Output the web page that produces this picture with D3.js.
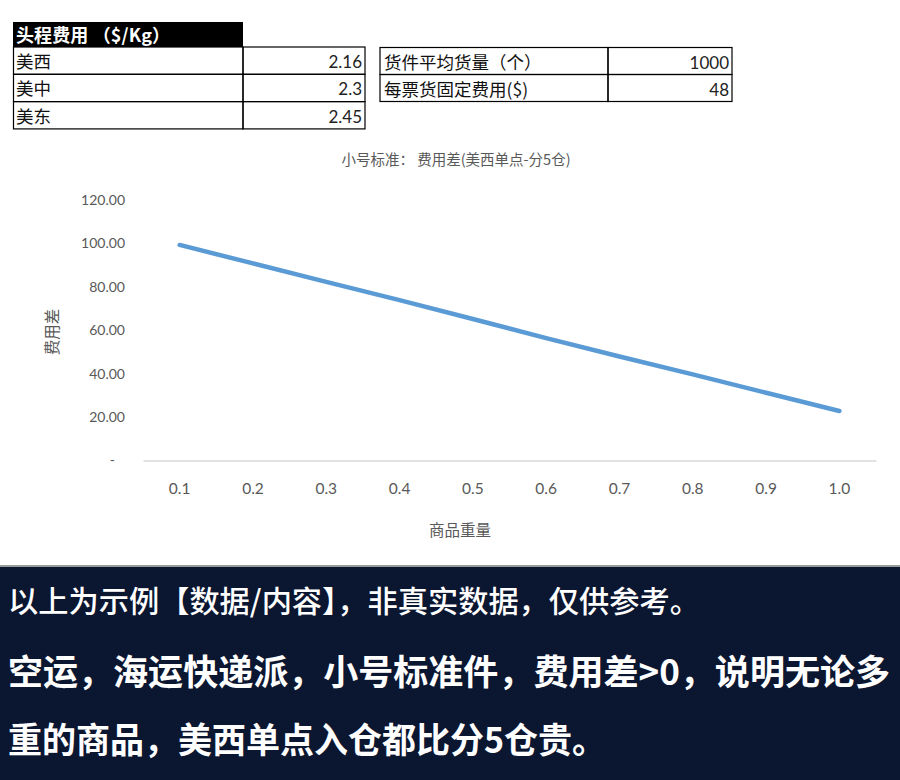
<!DOCTYPE html>
<html>
<head>
<meta charset="utf-8">
<script src="https://cdn.jsdelivr.net/npm/d3@7"></script>
<style>
  html, body { margin: 0; padding: 0; background: #ffffff; }
  svg { display: block; }
</style>
</head>
<body>
<svg id="chart" width="900" height="780"></svg>
<script>
// ---------- data ----------
const tableTitle = "头程费用 （$/Kg）";
const regions = ["美西", "美中", "美东"];
const headFees = ["2.16", "2.3", "2.45"];
const paramLabels = ["货件平均货量（个）", "每票货固定费用($)"];
const paramValues = ["1000", "48"];
const weights = ["0.1", "0.2", "0.3", "0.4", "0.5", "0.6", "0.7", "0.8", "0.9", "1.0"];
const costDiff = [99.3, 90.8, 82.3, 73.9, 65.2, 56.4, 47.9, 39.7, 31.2, 22.8];
const yTicks = [0, 20, 40, 60, 80, 100, 120];
const chartTitle = "小号标准：  费用差(美西单点-分5仓)";
const xTitle = "商品重量";
const yTitle = "费用差";
const noteLines = [
  "以上为示例【数据/内容】，非真实数据，仅供参考。",
  "空运，海运快递派，小号标准件，费用差>0，说明无论多",
  "重的商品，美西单点入仓都比分5仓贵。"
];

// ---------- drawing ----------
const svg = d3.select("#chart");
const CJK = "'Noto Sans CJK SC', 'Noto Sans', sans-serif";
const NUM = "Lato, 'Noto Sans', sans-serif";

// Table 1
const t1 = svg.append("g");
t1.append("rect").attr("x", 13).attr("y", 22).attr("width", 230).attr("height", 25).attr("fill", "#000");
t1.append("text").attr("x", 16).attr("y", 42).attr("fill", "#fff")
  .attr("font-family", CJK).attr("font-weight", "bold").attr("font-size", 18)
  .attr("textLength", 154).attr("lengthAdjust", "spacing").text(tableTitle);
const rowH = 27.3;
regions.forEach((r, i) => {
  const y0 = 47 + i * rowH;
  t1.append("rect").attr("x", 13.5).attr("y", y0).attr("width", 229.5).attr("height", rowH)
    .attr("fill", "none").attr("stroke", "#000").attr("stroke-width", 1.2);
  t1.append("rect").attr("x", 243).attr("y", y0).attr("width", 122).attr("height", rowH)
    .attr("fill", "none").attr("stroke", "#000").attr("stroke-width", 1.2);
  t1.append("text").attr("x", 16).attr("y", y0 + 21).attr("font-family", CJK).attr("font-size", 17.5)
    .attr("fill", "#111").text(r);
  t1.append("text").attr("x", 362).attr("y", y0 + 21).attr("text-anchor", "end")
    .attr("font-family", NUM).attr("font-size", 17).attr("fill", "#222").text(headFees[i]);
});

// Table 2
const t2 = svg.append("g");
paramLabels.forEach((p, i) => {
  const y0 = 47.5 + i * 27;
  t2.append("rect").attr("x", 380).attr("y", y0).attr("width", 228).attr("height", 27)
    .attr("fill", "none").attr("stroke", "#000").attr("stroke-width", 1.2);
  t2.append("rect").attr("x", 608).attr("y", y0).attr("width", 124).attr("height", 27)
    .attr("fill", "none").attr("stroke", "#000").attr("stroke-width", 1.2);
  t2.append("text").attr("x", 384).attr("y", y0 + 21).attr("font-family", CJK).attr("font-size", 17.5)
    .attr("fill", "#111").text(p);
  t2.append("text").attr("x", 729).attr("y", y0 + 21).attr("text-anchor", "end")
    .attr("font-family", NUM).attr("font-size", 17).attr("fill", "#222").text(paramValues[i]);
});

// Chart
const x = d3.scaleBand().domain(weights).range([143, 876]);
const y = d3.scaleLinear().domain([0, 120]).range([460.5, 200]);

svg.append("text").attr("x", 456).attr("y", 165).attr("text-anchor", "middle")
  .attr("font-family", CJK).attr("font-size", 14.5).attr("fill", "#595959").text(chartTitle);

const yAxis = svg.append("g").attr("transform", "translate(143,0)")
  .call(d3.axisLeft(y).tickValues(yTicks).tickSize(0).tickPadding(18)
    .tickFormat(d => d === 0 ? "-" : d.toFixed(2)));
yAxis.select(".domain").remove();
yAxis.selectAll("text").attr("font-family", NUM).attr("font-size", 14).attr("fill", "#595959");
yAxis.selectAll(".tick").filter(d => d === 0).select("text").attr("dx", -10);

const xAxis = svg.append("g").attr("transform", "translate(0,460.5)")
  .call(d3.axisBottom(x).tickSize(0).tickPadding(22));
xAxis.select(".domain").attr("stroke", "#d9d9d9").attr("stroke-width", 1.5);
xAxis.selectAll("text").attr("font-family", NUM).attr("font-size", 15.5).attr("fill", "#595959");

svg.append("text").attr("x", 460).attr("y", 536).attr("text-anchor", "middle")
  .attr("font-family", CJK).attr("font-size", 15.5).attr("fill", "#595959").text(xTitle);

svg.append("text").attr("transform", "translate(58,332) rotate(-90)").attr("text-anchor", "middle")
  .attr("font-family", CJK).attr("font-size", 15.5).attr("fill", "#595959").text(yTitle);

const line = d3.line()
  .x((d, i) => x(weights[i]) + x.bandwidth() / 2)
  .y(d => y(d));
svg.append("path").datum(costDiff).attr("d", line)
  .attr("fill", "none").attr("stroke", "#5b9bd5").attr("stroke-width", 4.5)
  .attr("stroke-linecap", "round").attr("stroke-linejoin", "round");

// Bottom note panel
svg.append("rect").attr("x", 0).attr("y", 566).attr("width", 900).attr("height", 214).attr("fill", "#0b1631");
svg.append("line").attr("x1", 0).attr("x2", 900).attr("y1", 566).attr("y2", 566)
  .attr("stroke", "#9a9a9a").attr("stroke-width", 2);

const noteY = [612, 685, 753];
const noteSize = [30, 35, 35];
const noteLen = [692, 882, 598];
const noteWeight = ["500", "bold", "bold"];
noteLines.forEach((t, i) => {
  svg.append("text").attr("x", 8).attr("y", noteY[i]).attr("fill", "#ffffff")
    .attr("font-family", CJK).attr("font-size", noteSize[i]).attr("font-weight", noteWeight[i])
    .attr("textLength", noteLen[i]).attr("lengthAdjust", "spacingAndGlyphs")
    .text(t);
});
</script>
</body>
</html>
